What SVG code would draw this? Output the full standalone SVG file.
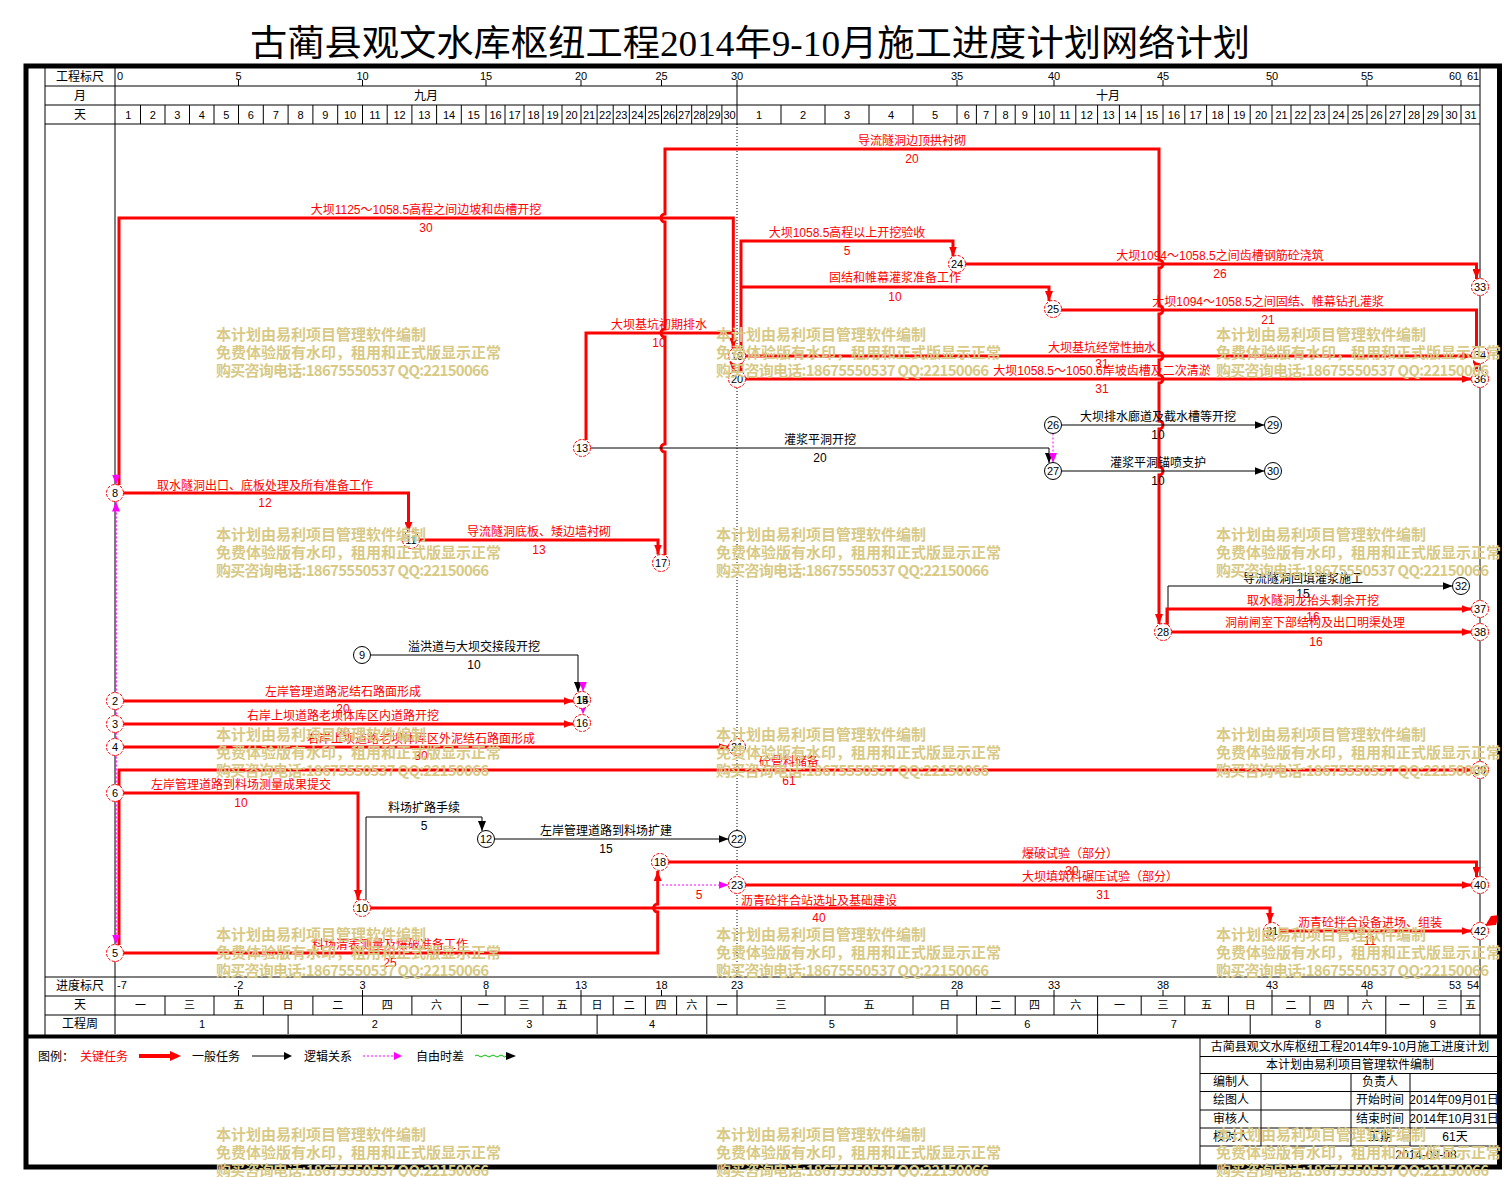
<svg xmlns="http://www.w3.org/2000/svg" width="1504" height="1177" viewBox="0 0 1504 1177">
<style>
text{font-family:"Liberation Sans","Noto Sans CJK SC",sans-serif}
.h{font-size:12px;fill:#000;text-anchor:middle}
.d{font-size:11px;fill:#000;text-anchor:middle}
.n{font-size:11px;fill:#000;text-anchor:middle}
.lr{font-size:12px;fill:#f00;text-anchor:middle}
.lb{font-size:12px;fill:#000;text-anchor:middle}
.crit{fill:none;stroke:#f00;stroke-width:3}
.norm{fill:none;stroke:#000;stroke-width:1}
.logic{fill:none;stroke:#f0f;stroke-width:1;stroke-dasharray:2,2}
.nr{fill:#fff;stroke:#f00;stroke-width:1;stroke-dasharray:3,1.5}
.nb{fill:#fff;stroke:#000;stroke-width:1}
.g{fill:none;stroke:#000;stroke-width:1}
.wm text{font-family:"Noto Sans CJK SC",sans-serif;font-size:15px;font-weight:bold;fill:#d8ca86}
</style>
<defs>
<marker id="ar" markerUnits="userSpaceOnUse" markerWidth="10" markerHeight="8" refX="10" refY="4" orient="auto"><path d="M0,0L10,4L0,8z" fill="#f00"/></marker>
<marker id="ab" markerUnits="userSpaceOnUse" markerWidth="10" markerHeight="8" refX="10" refY="4" orient="auto"><path d="M0,0L10,4L0,8z" fill="#000"/></marker>
<marker id="am" markerUnits="userSpaceOnUse" markerWidth="10" markerHeight="8" refX="10" refY="4" orient="auto"><path d="M0,0L10,4L0,8z" fill="#f0f"/></marker>
</defs>
<rect x="0" y="0" width="1504" height="1177" fill="#fff"/>
<text x="250" y="56" font-size="36" textLength="1000" lengthAdjust="spacingAndGlyphs" style="font-family:'Liberation Serif','Noto Sans CJK SC',serif">古蔺县观文水库枢纽工程2014年9-10月施工进度计划网络计划</text>

<g id="grid">
<path class="g" d="M45,68V1036M1480,68V1036M115,68V1034M45,86H1480M45,105H1480M45,124H1480M45,977H1480M45,996H1480M45,1015H1480"/>
<path class="g" d="M140.5,105V124M165,105V124M189.5,105V124M214,105V124M238.5,105V124M263.3,105V124M288.1,105V124M312.9,105V124M337.7,105V124M362.5,105V124M387.2,105V124M411.9,105V124M436.6,105V124M461.3,105V124M486,105V124M505,105V124M524,105V124M543,105V124M562,105V124M581,105V124M597.1,105V124M613.2,105V124M629.3,105V124M645.4,105V124M661.5,105V124M676.6,105V124M691.7,105V124M706.8,105V124M721.9,105V124M737,86V124M781,105V124M825,105V124M869,105V124M913,105V124M957,105V124M976.4,105V124M995.8,105V124M1015.2,105V124M1034.6,105V124M1054,105V124M1075.8,105V124M1097.6,105V124M1119.4,105V124M1141.2,105V124M1163,105V124M1184.8,105V124M1206.6,105V124M1228.4,105V124M1250.2,105V124M1272,105V124M1291,105V124M1310,105V124M1329,105V124M1348,105V124M1367,105V124M1385.8,105V124M1404.6,105V124M1423.4,105V124M1442.2,105V124M1461,105V124"/>
<path class="g" d="M238.5,80V86M362.5,80V86M486,80V86M581,80V86M661.5,80V86M737,80V86M957,80V86M1054,80V86M1163,80V86M1272,80V86M1367,80V86M1461,80V86M238.5,990V996M362.5,990V996M486,990V996M581,990V996M661.5,990V996M737,990V996M957,990V996M1054,990V996M1163,990V996M1272,990V996M1367,990V996M1461,990V996"/>
<path class="g" d="M165,996V1015M214,996V1015M263.3,996V1015M312.9,996V1015M362.5,996V1015M411.9,996V1015M461.3,996V1015M505,996V1015M543,996V1015M581,996V1015M613.2,996V1015M645.4,996V1015M676.6,996V1015M706.8,996V1015M737,996V1015M825,996V1015M913,996V1015M976.4,996V1015M1015.2,996V1015M1054,996V1015M1097.6,996V1015M1141.2,996V1015M1184.8,996V1015M1228.4,996V1015M1272,996V1015M1310,996V1015M1348,996V1015M1385.8,996V1015M1423.4,996V1015M1461,996V1015"/>
<path class="g" d="M288.1,1015V1034M461.3,1015V1034M597.1,1015V1034M706.8,1015V1034M957,1015V1034M1097.6,1015V1034M1250.2,1015V1034M1385.8,1015V1034"/>
<path d="M737,124V977" fill="none" stroke="#000" stroke-width="1" stroke-dasharray="1,2"/>
<text class="h" x="80" y="81">工程标尺</text>
<text class="h" x="80" y="100">月</text>
<text class="h" x="80" y="119">天</text>
<text class="h" x="426" y="100">九月</text>
<text class="h" x="1108" y="100">十月</text>
<g class="d">
<text x="117" y="80" style="text-anchor:start">0</text><text x="238.5" y="80">5</text><text x="362.5" y="80">10</text><text x="486" y="80">15</text><text x="581" y="80">20</text><text x="661.5" y="80">25</text><text x="737" y="80">30</text><text x="957" y="80">35</text><text x="1054" y="80">40</text><text x="1163" y="80">45</text><text x="1272" y="80">50</text><text x="1367" y="80">55</text><text x="1455" y="80">60</text><text x="1473" y="80">61</text>
</g>
<g class="d">
<text x="128.3" y="118.5">1</text><text x="152.8" y="118.5">2</text><text x="177.3" y="118.5">3</text><text x="201.8" y="118.5">4</text><text x="226.3" y="118.5">5</text><text x="250.9" y="118.5">6</text><text x="275.7" y="118.5">7</text><text x="300.5" y="118.5">8</text><text x="325.3" y="118.5">9</text><text x="350.1" y="118.5">10</text><text x="374.9" y="118.5">11</text><text x="399.6" y="118.5">12</text><text x="424.3" y="118.5">13</text><text x="449" y="118.5">14</text><text x="473.7" y="118.5">15</text><text x="495.5" y="118.5">16</text><text x="514.5" y="118.5">17</text><text x="533.5" y="118.5">18</text><text x="552.5" y="118.5">19</text><text x="571.5" y="118.5">20</text><text x="589.1" y="118.5">21</text><text x="605.2" y="118.5">22</text><text x="621.3" y="118.5">23</text><text x="637.4" y="118.5">24</text><text x="653.5" y="118.5">25</text><text x="669.1" y="118.5">26</text><text x="684.2" y="118.5">27</text><text x="699.3" y="118.5">28</text><text x="714.4" y="118.5">29</text><text x="729.5" y="118.5">30</text>
<text x="759" y="118.5">1</text><text x="803" y="118.5">2</text><text x="847" y="118.5">3</text><text x="891" y="118.5">4</text><text x="935" y="118.5">5</text><text x="966.7" y="118.5">6</text><text x="986.1" y="118.5">7</text><text x="1005.5" y="118.5">8</text><text x="1024.9" y="118.5">9</text><text x="1044.3" y="118.5">10</text><text x="1064.9" y="118.5">11</text><text x="1086.7" y="118.5">12</text><text x="1108.5" y="118.5">13</text><text x="1130.3" y="118.5">14</text><text x="1152.1" y="118.5">15</text><text x="1173.9" y="118.5">16</text><text x="1195.7" y="118.5">17</text><text x="1217.5" y="118.5">18</text><text x="1239.3" y="118.5">19</text><text x="1261.1" y="118.5">20</text><text x="1281.5" y="118.5">21</text><text x="1300.5" y="118.5">22</text><text x="1319.5" y="118.5">23</text><text x="1338.5" y="118.5">24</text><text x="1357.5" y="118.5">25</text><text x="1376.4" y="118.5">26</text><text x="1395.2" y="118.5">27</text><text x="1414" y="118.5">28</text><text x="1432.8" y="118.5">29</text><text x="1451.6" y="118.5">30</text><text x="1470.5" y="118.5">31</text>
</g>
<text class="h" x="80" y="990">进度标尺</text>
<text class="h" x="80" y="1009">天</text>
<text class="h" x="80" y="1028">工程周</text>
<g class="d">
<text x="117" y="989" style="text-anchor:start">-7</text><text x="238.5" y="989">-2</text><text x="362.5" y="989">3</text><text x="486" y="989">8</text><text x="581" y="989">13</text><text x="661.5" y="989">18</text><text x="737" y="989">23</text><text x="957" y="989">28</text><text x="1054" y="989">33</text><text x="1163" y="989">38</text><text x="1272" y="989">43</text><text x="1367" y="989">48</text><text x="1455" y="989">53</text><text x="1473" y="989">54</text>
</g>
<g class="d">
<text x="140.5" y="1009">一</text><text x="189.5" y="1009">三</text><text x="238.7" y="1009">五</text><text x="288.1" y="1009">日</text><text x="337.7" y="1009">二</text><text x="387.2" y="1009">四</text><text x="436.6" y="1009">六</text><text x="483.2" y="1009">一</text><text x="524" y="1009">三</text><text x="562" y="1009">五</text><text x="597.1" y="1009">日</text><text x="629.3" y="1009">二</text><text x="661" y="1009">四</text><text x="691.7" y="1009">六</text><text x="721.9" y="1009">一</text><text x="781" y="1009">三</text><text x="869" y="1009">五</text><text x="944.7" y="1009">日</text><text x="995.8" y="1009">二</text><text x="1034.6" y="1009">四</text><text x="1075.8" y="1009">六</text><text x="1119.4" y="1009">一</text><text x="1163" y="1009">三</text><text x="1206.6" y="1009">五</text><text x="1250.2" y="1009">日</text><text x="1291" y="1009">二</text><text x="1329" y="1009">四</text><text x="1366.9" y="1009">六</text><text x="1404.6" y="1009">一</text><text x="1442.2" y="1009">三</text><text x="1470.5" y="1009">五</text>
</g>
<g class="d">
<text x="202" y="1028">1</text><text x="374.7" y="1028">2</text><text x="529.2" y="1028">3</text><text x="652" y="1028">4</text><text x="831.9" y="1028">5</text><text x="1027.3" y="1028">6</text><text x="1173.9" y="1028">7</text><text x="1318" y="1028">8</text><text x="1432.9" y="1028">9</text>
</g>
</g>

<g id="connectors">
<g id="e8-20"><path class="crit" marker-end="url(#ar)" d="M119,485V218H733.3V371.4"/><text class="lr" x="426" y="214">大坝1125～1058.5高程之间边坡和齿槽开挖</text><text class="lr" x="426" y="232">30</text></g>
<g id="e8-11"><path class="crit" marker-end="url(#ar)" d="M123.5,493H408.5V532"/><text class="lr" x="265" y="490">取水隧洞出口、底板处理及所有准备工作</text><text class="lr" x="265" y="507">12</text></g>
<g id="e11-17"><path class="crit" marker-end="url(#ar)" d="M419.5,540H658V554.5"/><text class="lr" x="539" y="536">导流隧洞底板、矮边墙衬砌</text><text class="lr" x="539" y="554">13</text></g>
<g id="e17-28"><path class="crit" marker-end="url(#ar)" d="M665,555V452a4,4 0 0 1 0,-8V337a4,4 0 0 1 0,-8V222a4,4 0 0 1 0,-8V149H1159V260a4,4 0 0 1 0,8V306a4,4 0 0 1 0,8V352a4,4 0 0 1 0,8V375a4,4 0 0 1 0,8V421a4,4 0 0 1 0,8V467a4,4 0 0 1 0,8V624"/><text class="lr" x="912" y="145">导流隧洞边顶拱衬砌</text><text class="lr" x="912" y="163">20</text></g>
<g id="e13-19"><path class="crit" marker-end="url(#ar)" d="M586,440V333H733.3V348"/><text class="lr" x="659" y="329">大坝基坑初期排水</text><text class="lr" x="659" y="347">10</text></g>
<g id="e13-27"><path class="norm" marker-end="url(#ab)" d="M590.5,448H1049V463"/><text class="lb" x="820" y="444">灌浆平洞开挖</text><text class="lb" x="820" y="462">20</text></g>
<g id="e20-24"><path class="crit" marker-end="url(#ar)" d="M741,371V241H953V256.5"/><text class="lr" x="847" y="237">大坝1058.5高程以上开挖验收</text><text class="lr" x="847" y="255">5</text></g>
<g id="e20-25"><path class="crit" marker-end="url(#ar)" d="M741,287H1049V301"/><text class="lr" x="895" y="282">固结和帷幕灌浆准备工作</text><text class="lr" x="895" y="301">10</text></g>
<g id="e24-33"><path class="crit" marker-end="url(#ar)" d="M965.5,264H1476.5V279"/><text class="lr" x="1220" y="260">大坝1094～1058.5之间齿槽钢筋砼浇筑</text><text class="lr" x="1220" y="278">26</text></g>
<g id="e25-36"><path class="crit" marker-end="url(#ar)" d="M1061.5,310H1476.5V371"/><text class="lr" x="1268" y="306">大坝1094～1058.5之间固结、帷幕钻孔灌浆</text><text class="lr" x="1268" y="324">21</text></g>
<g id="e19-34"><path class="crit" marker-end="url(#ar)" d="M745.5,356H1471.5"/><text class="lr" x="1102" y="352">大坝基坑经常性抽水</text><text class="lr" x="1102" y="368">31</text></g>
<g id="e20-36"><path class="crit" marker-end="url(#ar)" d="M745.5,379H1471.5"/><text class="lr" x="1102" y="375">大坝1058.5～1050.6岸坡齿槽及二次清淤</text><text class="lr" x="1102" y="393">31</text></g>
<g id="e26-29"><path class="norm" marker-end="url(#ab)" d="M1061.5,425H1264.5"/><text class="lb" x="1158" y="421">大坝排水廊道及截水槽等开挖</text><text class="lb" x="1158" y="439">10</text></g>
<g id="e27-30"><path class="norm" marker-end="url(#ab)" d="M1061.5,471H1264.5"/><text class="lb" x="1158" y="467">灌浆平洞锚喷支护</text><text class="lb" x="1158" y="485">10</text></g>
<g id="e26-27"><path class="logic" marker-end="url(#am)" d="M1053,433.5V463"/></g>
<g id="e28-32"><path class="norm" marker-end="url(#ab)" d="M1168,624V586H1452.5"/><text class="lb" x="1303" y="583">导流隧洞回填灌浆施工</text><text class="lb" x="1303" y="598">15</text></g>
<g id="e28-37"><path class="crit" marker-end="url(#ar)" d="M1167,625V609H1471.5"/><text class="lr" x="1313" y="605">取水隧洞龙抬头剩余开挖</text><text class="lr" x="1313" y="621">16</text></g>
<g id="e28-38"><path class="crit" marker-end="url(#ar)" d="M1171.5,632H1471.5"/><text class="lr" x="1315" y="627">洞前闸室下部结构及出口明渠处理</text><text class="lr" x="1316" y="646">16</text></g>
<g id="e9-15"><path class="norm" marker-end="url(#ab)" d="M370.5,655H578V692"/><text class="lb" x="474" y="651">溢洪道与大坝交接段开挖</text><text class="lb" x="474" y="669">10</text></g>
<g id="e2-14"><path class="crit" marker-end="url(#ar)" d="M123.5,701H573.5"/><text class="lr" x="343" y="696">左岸管理道路泥结石路面形成</text><text class="lr" x="343" y="713">20</text></g>
<g id="e3-16"><path class="crit" marker-end="url(#ar)" d="M123.5,724H573.5"/><text class="lr" x="343" y="720">右岸上坝道路老坝体库区内道路开挖</text><text class="lr" x="343" y="737">20</text></g>
<g id="e4-21"><path class="crit" marker-end="url(#ar)" d="M123.5,747H728.5"/><text class="lr" x="421" y="743">右岸上坝道路老坝体库区外泥结石路面形成</text><text class="lr" x="421" y="760">30</text></g>
<g id="e5-39"><path class="crit" marker-end="url(#ar)" d="M119,945V770H1471.5"/><text class="lr" x="789" y="766">砼骨料储备</text><text class="lr" x="789" y="785">61</text></g>
<g id="e6-10"><path class="crit" marker-end="url(#ar)" d="M123.5,793H358V900"/><text class="lr" x="241" y="789">左岸管理道路到料场测量成果提交</text><text class="lr" x="241" y="807">10</text></g>
<g id="e10-12"><path class="norm" marker-end="url(#ab)" d="M366,900V817H482V831"/><text class="lb" x="424" y="812">料场扩路手续</text><text class="lb" x="424" y="830">5</text></g>
<g id="e12-22"><path class="norm" marker-end="url(#ab)" d="M494.5,839H728.5"/><text class="lb" x="606" y="835">左岸管理道路到料场扩建</text><text class="lb" x="606" y="853">15</text></g>
<g id="e5-18"><path class="crit" marker-end="url(#ar)" d="M123.5,953H657.7V912a4,4 0 0 1 0,-8V871"/><text class="lr" x="390" y="949">料场清表测量及爆破准备工作</text><text class="lr" x="390" y="967">25</text></g>
<g id="e10-31"><path class="crit" marker-end="url(#ar)" d="M370.5,908H1270V923"/><text class="lr" x="819" y="905">沥青砼拌合站选址及基础建设</text><text class="lr" x="819" y="922">40</text></g>
<g id="e18-40"><path class="crit" marker-end="url(#ar)" d="M668.5,862H1476.5V877"/><text class="lr" x="1070" y="858">爆破试验（部分）</text><text class="lr" x="1072" y="875">30</text></g>
<g id="e23-40"><path class="crit" marker-end="url(#ar)" d="M745.5,885H1471.5"/><text class="lr" x="1100" y="881">大坝填筑料碾压试验（部分）</text><text class="lr" x="1103" y="899">31</text></g>
<g id="e31-42"><path class="crit" marker-end="url(#ar)" d="M1280.5,931H1471.5"/><text class="lr" x="1370" y="927">沥青砼拌合设备进场、组装</text><text class="lr" x="1370" y="945">11</text></g>
<g id="e18-23"><path class="logic" marker-end="url(#am)" d="M662,885H728.5"/><text class="lr" x="699" y="899">5</text></g>
<g id="e15-14"><path class="logic" marker-end="url(#am)" d="M583,682V691.5"/></g>
<g id="e14-16"><path class="logic" marker-end="url(#am)" d="M583,706V714.5"/></g>
<g id="e-8top"><path class="logic" marker-end="url(#am)" d="M116,474V484.5"/></g>
<g id="e5-8"><path class="logic" marker-end="url(#am)" d="M116,935V501.5"/></g>
<g id="e8-5"><path class="logic" marker-end="url(#am)" d="M116,512V944.5"/></g>
<polygon points="1485,926 1491,916 1499,915 1496,925" fill="#f00"/>
</g>

<g id="nodes">
<g id="n2"><circle class="nr" cx="115" cy="701" r="8.5"/><text class="n" x="115" y="705">2</text></g>
<g id="n3"><circle class="nr" cx="115" cy="724" r="8.5"/><text class="n" x="115" y="728">3</text></g>
<g id="n4"><circle class="nr" cx="115" cy="747" r="8.5"/><text class="n" x="115" y="751">4</text></g>
<g id="n5"><circle class="nr" cx="115" cy="953" r="8.5"/><text class="n" x="115" y="957">5</text></g>
<g id="n6"><circle class="nr" cx="115" cy="793" r="8.5"/><text class="n" x="115" y="797">6</text></g>
<g id="n8"><circle class="nr" cx="115" cy="493" r="8.5"/><text class="n" x="115" y="497">8</text></g>
<g id="n9"><circle class="nb" cx="362" cy="655" r="8.5"/><text class="n" x="362" y="659">9</text></g>
<g id="n10"><circle class="nr" cx="362" cy="908" r="8.5"/><text class="n" x="362" y="912">10</text></g>
<g id="n11"><circle class="nr" cx="411" cy="540" r="8.5"/><text class="n" x="411" y="544">11</text></g>
<g id="n12"><circle class="nb" cx="486" cy="839" r="8.5"/><text class="n" x="486" y="843">12</text></g>
<g id="n13"><circle class="nr" cx="582" cy="448" r="8.5"/><text class="n" x="582" y="452">13</text></g>
<g id="n15"><circle class="nr" cx="582" cy="700" r="8.5"/><text class="n" x="582" y="704">15</text></g>
<g id="n14"><text class="n" x="582.5" y="704">14</text></g>
<g id="n16"><circle class="nr" cx="582" cy="723" r="8.5"/><text class="n" x="582" y="727">16</text></g>
<g id="n17"><circle class="nr" cx="661" cy="563" r="8.5"/><text class="n" x="661" y="567">17</text></g>
<g id="n18"><circle class="nr" cx="660" cy="862" r="8.5"/><text class="n" x="660" y="866">18</text></g>
<g id="n19"><circle class="nr" cx="737" cy="356" r="8.5"/><text class="n" x="737" y="360">19</text></g>
<g id="n20"><circle class="nr" cx="737" cy="379" r="8.5"/><text class="n" x="737" y="383">20</text></g>
<g id="n21"><circle class="nr" cx="737" cy="747" r="8.5"/><text class="n" x="737" y="751">21</text></g>
<g id="n22"><circle class="nb" cx="737" cy="839" r="8.5"/><text class="n" x="737" y="843">22</text></g>
<g id="n23"><circle class="nr" cx="737" cy="885" r="8.5"/><text class="n" x="737" y="889">23</text></g>
<g id="n24"><circle class="nr" cx="957" cy="264" r="8.5"/><text class="n" x="957" y="268">24</text></g>
<g id="n25"><circle class="nr" cx="1053" cy="309" r="8.5"/><text class="n" x="1053" y="313">25</text></g>
<g id="n26"><circle class="nb" cx="1053" cy="425" r="8.5"/><text class="n" x="1053" y="429">26</text></g>
<g id="n27"><circle class="nb" cx="1053" cy="471" r="8.5"/><text class="n" x="1053" y="475">27</text></g>
<g id="n28"><circle class="nr" cx="1163" cy="632" r="8.5"/><text class="n" x="1163" y="636">28</text></g>
<g id="n29"><circle class="nb" cx="1273" cy="425" r="8.5"/><text class="n" x="1273" y="429">29</text></g>
<g id="n30"><circle class="nb" cx="1273" cy="471" r="8.5"/><text class="n" x="1273" y="475">30</text></g>
<g id="n31"><circle class="nr" cx="1272" cy="931" r="8.5"/><text class="n" x="1272" y="935">31</text></g>
<g id="n32"><circle class="nb" cx="1461" cy="586" r="8.5"/><text class="n" x="1461" y="590">32</text></g>
<g id="n33"><circle class="nr" cx="1480" cy="287" r="8.5"/><text class="n" x="1480" y="291">33</text></g>
<g id="n34"><circle class="nr" cx="1480" cy="355" r="8.5"/><text class="n" x="1480" y="359">34</text></g>
<g id="n36"><circle class="nr" cx="1480" cy="379" r="8.5"/><text class="n" x="1480" y="383">36</text></g>
<g id="n37"><circle class="nr" cx="1480" cy="609" r="8.5"/><text class="n" x="1480" y="613">37</text></g>
<g id="n38"><circle class="nr" cx="1480" cy="632" r="8.5"/><text class="n" x="1480" y="636">38</text></g>
<g id="n39"><circle class="nr" cx="1480" cy="770" r="8.5"/><text class="n" x="1480" y="774">39</text></g>
<g id="n40"><circle class="nr" cx="1480" cy="885" r="8.5"/><text class="n" x="1480" y="889">40</text></g>
<g id="n42"><circle class="nr" cx="1480" cy="931" r="8.5"/><text class="n" x="1480" y="935">42</text></g>
</g>

<g id="legend">
<text x="38" y="1061" font-size="12">图例：</text>
<text x="80" y="1061" font-size="12" fill="#f00">关键任务</text>
<path d="M139,1056H172" stroke="#f00" stroke-width="4"/><polygon points="170,1051 181,1056 170,1061" fill="#f00"/>
<text x="192" y="1061" font-size="12">一般任务</text>
<path d="M252,1056H284" stroke="#000" stroke-width="1"/><polygon points="284,1052 292,1056 284,1060" fill="#000"/>
<text x="304" y="1061" font-size="12">逻辑关系</text>
<path d="M363,1056H394" stroke="#f0f" stroke-width="1" stroke-dasharray="2,2"/><polygon points="394,1052 402,1056 394,1060" fill="#f0f"/>
<text x="416" y="1061" font-size="12">自由时差</text>
<path d="M475,1056q2,-2 4,0t4,0t4,0t4,0t4,0t4,0t4,0t3,0" fill="none" stroke="#00c000" stroke-width="1"/><polygon points="506,1052 516,1056 506,1060" fill="#000"/>
</g>

<g id="infotable">
<path class="g" d="M1200,1038V1165M1200,1056.5H1499M1200,1073.5H1499M1200,1091.5H1499M1200,1110H1499M1200,1128H1499M1200,1146H1499M1261,1073.5V1146M1351,1073.5V1146M1410,1073.5V1146"/>
<text class="h" x="1350" y="1051">古蔺县观文水库枢纽工程2014年9-10月施工进度计划</text>
<text class="h" x="1350" y="1069">本计划由易利项目管理软件编制</text>
<text x="1213" y="1086" font-size="12">编制人</text>
<text x="1213" y="1104" font-size="12">绘图人</text>
<text x="1213" y="1123" font-size="12">审核人</text>
<text x="1213" y="1141" font-size="12">校对人</text>
<text class="h" x="1380" y="1086">负责人</text>
<text class="h" x="1380" y="1104">开始时间</text>
<text class="h" x="1380" y="1123">结束时间</text>
<text class="h" x="1380" y="1141">工期</text>
<text class="h" x="1454" y="1104">2014年09月01日</text>
<text class="h" x="1454" y="1123">2014年10月31日</text>
<text class="h" x="1455" y="1141">61天</text>
<text class="h" x="1426" y="1159">2014-09-08</text>
</g>

<g id="frame" fill="none" stroke="#000">
<rect x="26" y="66" width="1473.5" height="1101" stroke-width="5"/>
<path d="M26,1036.5H1499.5" stroke-width="4"/>
</g>

<g class="wm">
<text x="216" y="339.5">本计划由易利项目管理软件编制</text><text x="216" y="357.5">免费体验版有水印，租用和正式版显示正常</text><text x="216" y="375.5" textLength="273">购买咨询电话:18675550537 QQ:22150066</text>
<text x="716" y="339.5">本计划由易利项目管理软件编制</text><text x="716" y="357.5">免费体验版有水印，租用和正式版显示正常</text><text x="716" y="375.5" textLength="273">购买咨询电话:18675550537 QQ:22150066</text>
<text x="1216" y="339.5">本计划由易利项目管理软件编制</text><text x="1216" y="357.5">免费体验版有水印，租用和正式版显示正常</text><text x="1216" y="375.5" textLength="273">购买咨询电话:18675550537 QQ:22150066</text>
<text x="216" y="539.5">本计划由易利项目管理软件编制</text><text x="216" y="557.5">免费体验版有水印，租用和正式版显示正常</text><text x="216" y="575.5" textLength="273">购买咨询电话:18675550537 QQ:22150066</text>
<text x="716" y="539.5">本计划由易利项目管理软件编制</text><text x="716" y="557.5">免费体验版有水印，租用和正式版显示正常</text><text x="716" y="575.5" textLength="273">购买咨询电话:18675550537 QQ:22150066</text>
<text x="1216" y="539.5">本计划由易利项目管理软件编制</text><text x="1216" y="557.5">免费体验版有水印，租用和正式版显示正常</text><text x="1216" y="575.5" textLength="273">购买咨询电话:18675550537 QQ:22150066</text>
<text x="216" y="739.5">本计划由易利项目管理软件编制</text><text x="216" y="757.5">免费体验版有水印，租用和正式版显示正常</text><text x="216" y="775.5" textLength="273">购买咨询电话:18675550537 QQ:22150066</text>
<text x="716" y="739.5">本计划由易利项目管理软件编制</text><text x="716" y="757.5">免费体验版有水印，租用和正式版显示正常</text><text x="716" y="775.5" textLength="273">购买咨询电话:18675550537 QQ:22150066</text>
<text x="1216" y="739.5">本计划由易利项目管理软件编制</text><text x="1216" y="757.5">免费体验版有水印，租用和正式版显示正常</text><text x="1216" y="775.5" textLength="273">购买咨询电话:18675550537 QQ:22150066</text>
<text x="216" y="939.5">本计划由易利项目管理软件编制</text><text x="216" y="957.5">免费体验版有水印，租用和正式版显示正常</text><text x="216" y="975.5" textLength="273">购买咨询电话:18675550537 QQ:22150066</text>
<text x="716" y="939.5">本计划由易利项目管理软件编制</text><text x="716" y="957.5">免费体验版有水印，租用和正式版显示正常</text><text x="716" y="975.5" textLength="273">购买咨询电话:18675550537 QQ:22150066</text>
<text x="1216" y="939.5">本计划由易利项目管理软件编制</text><text x="1216" y="957.5">免费体验版有水印，租用和正式版显示正常</text><text x="1216" y="975.5" textLength="273">购买咨询电话:18675550537 QQ:22150066</text>
<text x="216" y="1139.5">本计划由易利项目管理软件编制</text><text x="216" y="1157.5">免费体验版有水印，租用和正式版显示正常</text><text x="216" y="1175.5" textLength="273">购买咨询电话:18675550537 QQ:22150066</text>
<text x="716" y="1139.5">本计划由易利项目管理软件编制</text><text x="716" y="1157.5">免费体验版有水印，租用和正式版显示正常</text><text x="716" y="1175.5" textLength="273">购买咨询电话:18675550537 QQ:22150066</text>
<text x="1216" y="1139.5">本计划由易利项目管理软件编制</text><text x="1216" y="1157.5">免费体验版有水印，租用和正式版显示正常</text><text x="1216" y="1175.5" textLength="273">购买咨询电话:18675550537 QQ:22150066</text>
</g>
</svg>
